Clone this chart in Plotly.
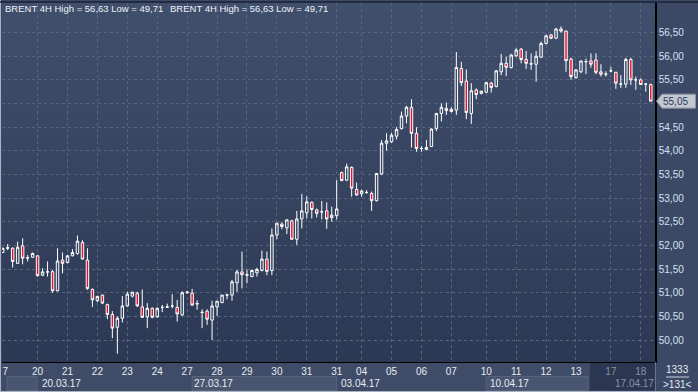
import plotly.graph_objects as go

# ---- data (BRENT 4H candles) ----
open_ = [51.85, 51.94, 51.94, 51.62, 51.99, 51.73, 51.75, 51.78, 51.37, 51.44,
         51.445, 51.04, 51.69, 51.64, 51.78, 51.83, 52.06, 51.69, 51.07, 50.83,
         50.95, 50.75, 50.54, 50.27, 50.46, 50.72, 50.93, 50.99, 50.70, 50.49,
         50.67, 50.49, 50.69, 50.69, 50.72, 50.69, 50.53, 51.00, 50.99, 50.76,
         50.59, 50.61, 50.42, 50.70, 50.79, 50.95, 50.95, 51.21, 51.44, 51.37,
         51.34, 51.42, 51.47, 51.71, 51.47, 52.22, 52.45, 52.37, 52.52, 52.13,
         52.56, 52.69, 52.91, 52.75, 52.71, 52.73, 52.59, 52.63, 53.54, 53.38,
         53.65, 53.185, 53.09, 53.12, 53.10, 52.945, 53.51, 54.16, 54.19, 54.31,
         54.47, 54.735, 54.92, 54.37, 54.05, 54.03, 54.09, 54.47, 54.79, 54.90,
         54.88, 54.86, 55.74, 55.475, 54.79, 55.285, 55.215, 55.24, 55.43, 55.36,
         55.67, 55.85, 55.76, 56.01, 56.15, 55.93, 55.835, 55.83, 55.98, 56.27,
         56.45, 56.38, 56.575, 56.53, 55.94, 55.55, 55.67, 55.885, 55.90, 55.92,
         55.67, 55.62, 55.69, 55.66, 55.41, 55.41, 55.93, 55.50, 55.50, 55.41,
         55.40]
high = [51.95, 52.03, 51.96, 52.08, 52.15, 51.80, 51.85, 51.79, 51.52, 51.66,
        51.48, 51.94, 51.85, 51.80, 51.92, 52.21, 52.11, 51.94, 51.09, 50.94,
        50.96, 50.77, 50.61, 50.50, 50.93, 51.02, 51.02, 51.02, 51.07, 50.78,
        50.69, 50.69, 50.74, 50.77, 50.97, 50.85, 51.03, 51.04, 51.08, 50.84,
        50.65, 50.65, 50.83, 50.83, 50.95, 50.98, 51.27, 51.48, 51.87, 51.49,
        51.49, 51.53, 51.89, 51.87, 52.36, 52.48, 52.49, 52.55, 52.54, 52.73,
        53.09, 53.04, 52.93, 52.78, 52.94, 52.91, 52.82, 53.38, 53.56, 53.73,
        53.67, 53.33, 53.18, 53.17, 53.14, 53.53, 54.23, 54.37, 54.38, 54.50,
        54.83, 54.95, 55.09, 54.50, 54.10, 54.23, 54.475, 54.80, 55.00, 55.02,
        54.915, 56.09, 55.88, 55.72, 55.43, 55.32, 55.27, 55.46, 55.46, 55.71,
        56.05, 55.99, 56.05, 56.17, 56.17, 56.11, 56.06, 56.11, 56.31, 56.46,
        56.47, 56.60, 56.63, 56.54, 55.97, 55.73, 55.90, 55.95, 56.06, 56.06,
        55.83, 55.68, 55.78, 55.67, 55.60, 55.97, 55.97, 55.57, 55.53, 55.43,
        55.42]
low = [51.84, 51.90, 51.53, 51.61, 51.60, 51.66, 51.74, 51.34, 51.35, 51.34,
       51.00, 51.03, 51.41, 51.62, 51.77, 51.80, 51.71, 51.06, 50.70, 50.80,
       50.76, 50.44, 50.04, 49.71, 50.37, 50.70, 50.90, 50.70, 50.47, 50.25,
       50.46, 50.47, 50.59, 50.68, 50.67, 50.39, 50.51, 50.98, 50.72, 50.64,
       50.25, 50.32, 50.00, 50.51, 50.78, 50.86, 50.83, 51.02, 51.09, 51.20,
       51.33, 51.34, 51.45, 51.37, 51.37, 52.13, 52.34, 52.24, 52.12, 52.01,
       52.36, 52.57, 52.57, 52.59, 52.55, 52.35, 52.50, 52.55, 53.36, 53.36,
       53.03, 53.05, 53.03, 53.09, 52.73, 52.93, 53.49, 54.00, 54.17, 54.24,
       54.45, 54.58, 54.07, 53.98, 53.98, 54.01, 54.08, 54.42, 54.62, 54.76,
       54.81, 54.76, 55.37, 54.67, 54.57, 55.09, 55.19, 55.22, 55.23, 55.34,
       55.60, 55.58, 55.74, 55.98, 55.85, 55.73, 55.71, 55.46, 55.96, 56.25,
       56.36, 56.36, 56.50, 55.67, 55.50, 55.52, 55.64, 55.62, 55.76, 55.62,
       55.57, 55.57, 55.66, 55.31, 55.33, 55.33, 55.39, 55.29, 55.39, 55.25,
       55.05]
close = [51.94, 51.95, 51.66, 51.96, 51.73, 51.74, 51.83, 51.36, 51.44, 51.44,
         51.04, 51.67, 51.62, 51.78, 51.85, 52.09, 51.71, 51.09, 50.85, 50.92,
         50.78, 50.54, 50.25, 50.46, 50.72, 50.97, 51.01, 50.72, 50.48, 50.67,
         50.48, 50.67, 50.69, 50.70, 50.72, 50.55, 51.00, 51.01, 50.74, 50.77,
         50.58, 50.44, 50.72, 50.82, 50.95, 50.95, 51.23, 51.44, 51.38, 51.38,
         51.47, 51.49, 51.71, 51.45, 52.22, 52.47, 52.40, 52.54, 52.13, 52.56,
         52.73, 52.92, 52.76, 52.68, 52.71, 52.56, 52.64, 52.77, 53.37, 53.66,
         53.21, 53.065, 53.15, 53.12, 52.945, 53.52, 54.16, 54.21, 54.33, 54.45,
         54.735, 54.92, 54.37, 54.05, 54.05, 54.07, 54.46, 54.79, 54.92, 54.85,
         54.83, 55.76, 55.44, 54.81, 55.27, 55.19, 55.26, 55.44, 55.34, 55.69,
         55.85, 55.765, 56.025, 56.13, 55.93, 55.85, 55.84, 56.00, 56.27, 56.43,
         56.38, 56.575, 56.53, 55.905, 55.57, 55.71, 55.90, 55.885, 55.83, 55.66,
         55.62, 55.62, 55.69, 55.43, 55.41, 55.93, 55.50, 55.50, 55.40, 55.41,
         55.05]
bar_index = list(range(len(close)))

day_tick_idx = [0.5, 7, 13, 19, 25, 31, 37, 43, 49, 55, 61, 67, 72, 78, 84, 90,
                97, 103, 109, 115, 122, 128]
day_labels = ["7", "20", "21", "22", "23", "24", "27", "28", "29", "30", "31",
              "31", "04", "05", "06", "07", "10", "11", "12", "13", "17", "18"]
dim_days = {"17", "18"}
week_idx = [7, 37.6, 67, 97, 122]
week_labels = ["20.03.17", "27.03.17", "03.04.17", "10.04.17", "17.04.17"]
price_ticks = [50.0, 50.5, 51.0, 51.5, 52.0, 52.5, 53.0, 53.5, 54.0, 54.5, 55.0,
               55.5, 56.0, 56.5]

# ---- geometry helpers (pixel -> paper) ----
W, H = 698, 392
ML, MR, MT, MB = 2, 43, 3, 30
PW, PH = W - ML - MR, H - MT - MB
YR = (49.535, 57.125)


def px(x):
    return (x - ML) / PW


def py(y):
    return (H - MB - y) / PH


RED = "#e3122d"
fig = go.Figure()
fig.add_trace(go.Candlestick(
    x=bar_index, open=open_, high=high, low=low, close=close,
    increasing=dict(line=dict(color="#ffffff", width=1), fillcolor="rgba(0,0,0,0)"),
    decreasing=dict(line=dict(color="#ffffff", width=1), fillcolor=RED),
    whiskerwidth=0, hoverinfo="skip", showlegend=False,
))

shapes = []
# vertical gradient for chart background
top_c = (0x40, 0x4f, 0x6c)
bot_c = (0x2c, 0x39, 0x55)
n = 40
for k in range(n):
    t = (k + 0.5) / n
    c = tuple(int(round(top_c[j] + (bot_c[j] - top_c[j]) * t)) for j in range(3))
    shapes.append(dict(type="rect", xref="paper", yref="paper", x0=0, x1=1,
                       y0=1 - (k + 1) / n - 0.001, y1=1 - k / n,
                       fillcolor="rgb(%d,%d,%d)" % c, line=dict(width=0), layer="below"))
# bottom axis panel
shapes.append(dict(type="rect", xref="paper", yref="paper", x0=px(0), x1=1,
                   y0=py(392), y1=py(362.5), fillcolor="#3e4c68", line=dict(width=0), layer="below"))
# light week boxes
for a, b in [(0.9, 6.9), (38.0, 67.0), (97.0, 117.4)]:
    shapes.append(dict(type="rect", xref="x", yref="paper", x0=a, x1=b,
                       y0=py(390.5), y1=py(376.5), fillcolor="#48566f",
                       line=dict(color="#56637c", width=1), layer="below"))
# dark current region
shapes.append(dict(type="rect", xref="x", yref="paper", x0=117.8, x1=130.85,
                   y0=py(390.5), y1=py(362.5), fillcolor="#2b3750", line=dict(width=0), layer="below"))
# separator at right of bottom panel
shapes.append(dict(type="line", xref="paper", yref="paper", x0=px(655.5), x1=px(655.5),
                   y0=py(392), y1=py(362), line=dict(color="#6b7790", width=1)))
# line between 1333 and >131<
shapes.append(dict(type="line", xref="paper", yref="paper", x0=px(666), x1=px(689),
                   y0=py(377), y1=py(377), line=dict(color="#c8d0de", width=1)))
# outer frame
shapes.append(dict(type="line", xref="paper", yref="paper", x0=px(0.5), x1=px(0.5),
                   y0=py(392), y1=py(0), line=dict(color="#aab2c2", width=1)))
shapes.append(dict(type="line", xref="paper", yref="paper", x0=px(0), x1=px(698),
                   y0=py(391.5), y1=py(391.5), line=dict(color="#aab2c2", width=1)))
shapes.append(dict(type="line", xref="paper", yref="paper", x0=px(0), x1=px(698),
                   y0=py(2), y1=py(2), line=dict(color="#1a2233", width=1.5)))

# price tag for last close
last = close[-1]
dy = 7 / (PH / (YR[1] - YR[0]))
shapes.append(dict(type="path", xref="paper", yref="y",
                   path="M %f,%f L %f,%f L %f,%f L %f,%f L %f,%f Z" % (
                       px(656.5), last, px(662), last + dy, px(695.5), last + dy,
                       px(695.5), last - dy, px(662), last - dy),
                   fillcolor="#c3c7cf", line=dict(color="#8a93a5", width=1)))

ann = []
hdr = "BRENT 4H High = %s Low = %s" % (f"{max(high):.2f}".replace(".", ","),
                                        f"{min(low):.2f}".replace(".", ","))
for xx in (3, 168):
    ann.append(dict(text=hdr, xref="paper", yref="paper", x=px(xx), y=py(8.5),
                    xanchor="left", yanchor="middle", showarrow=False,
                    font=dict(size=9.5, color="#eef2f8")))
for wi, wl in zip(week_idx, week_labels):
    col = "#8592a8" if wl == "17.04.17" else "#e6ebf2"
    ann.append(dict(text=wl, xref="x", yref="paper", x=wi, y=py(383.5), xshift=2,
                    xanchor="left", yanchor="middle", showarrow=False,
                    font=dict(size=10, color=col)))
ann.append(dict(text=f"{last:.2f}".replace(".", ","), xref="paper", yref="y", x=px(661),
                y=last, xanchor="left", yanchor="middle", showarrow=False,
                font=dict(size=10, color="#2c3c5e")))
ann.append(dict(text="1333", xref="paper", yref="paper", x=px(677), y=py(369.5),
                xanchor="center", yanchor="middle", showarrow=False,
                font=dict(size=10, color="#e6ebf2")))
ann.append(dict(text="&gt;131&lt;", xref="paper", yref="paper", x=px(677), y=py(384.5),
                xanchor="center", yanchor="middle", showarrow=False,
                font=dict(size=10, color="#e6ebf2")))

ticktext = [("<span style='color:#8592a8'>%s</span>" % d) if d in dim_days else d
            for d in day_labels]
# the 55,00 label sits under the last-price tag in the reference
price_text = ["" if abs(p - last) < 0.2 else f"{p:.2f}".replace(".", ",")
              for p in price_ticks]

fig.update_layout(
    width=W, height=H, margin=dict(l=ML, r=MR, t=MT, b=MB, pad=0),
    paper_bgcolor="#3c4966", plot_bgcolor="rgba(0,0,0,0)",
    font=dict(family="Liberation Sans, Arial, sans-serif", size=10, color="#e6ebf2"),
    separators=",.", shapes=shapes, annotations=ann, showlegend=False,
    xaxis=dict(range=[-0.14, 130.85], tickmode="array", tickvals=day_tick_idx,
               ticktext=ticktext, showgrid=False, zeroline=False, ticks="",
               showline=True, linecolor="#000000", linewidth=1,
               rangeslider=dict(visible=False), fixedrange=True,
               tickfont=dict(size=10, color="#e6ebf2"),
               minor=dict(tickmode="array", tickvals=day_tick_idx[1:], showgrid=True,
                          gridcolor="#58657f", griddash="3px,3px", gridwidth=1, ticks="")),
    yaxis=dict(range=list(YR), side="right", tickmode="array",
               tickvals=price_ticks, ticktext=price_text, showgrid=True,
               gridcolor="#58657f", griddash="3px,3px", gridwidth=1, zeroline=False,
               ticks="", showline=True, linecolor="#000000", linewidth=1.5,
               tickfont=dict(size=10, color="#d5e0f2"), fixedrange=True),
)

fig.write_html("out.html", config={"displayModeBar": False},
               post_script="document.body.style.margin='0';document.body.style.overflow='hidden';")
